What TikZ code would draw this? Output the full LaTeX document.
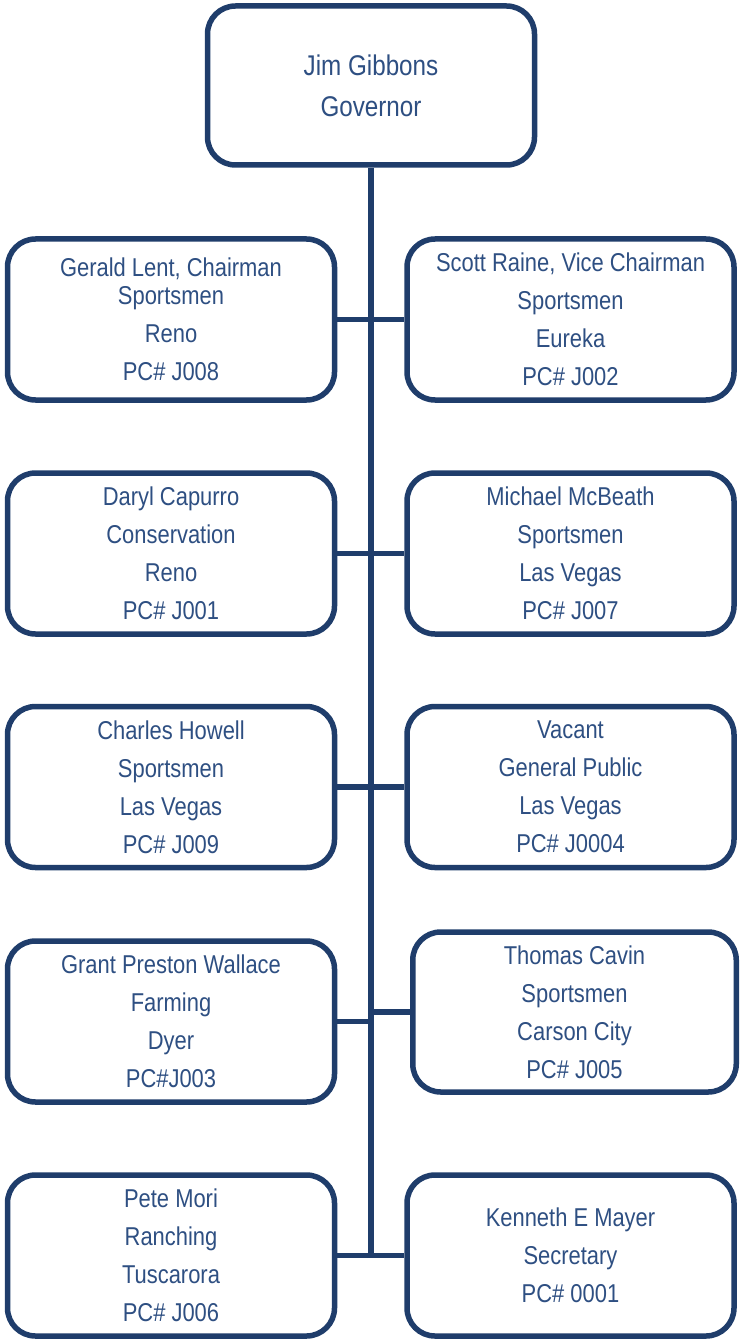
\documentclass[tikz,border=0pt]{standalone}
\usepackage{fontspec}
\setmainfont{Liberation Sans}[FakeStretch=0.85]
\definecolor{boxline}{RGB}{31,61,107}
\definecolor{boxtext}{RGB}{46,79,130}
\begin{document}
\begin{tikzpicture}[x=1pt,y=-1pt,
  member/.style={draw=boxline, line width=5.5pt, rounded corners=28pt, fill=white,
    minimum width=327pt, minimum height=161pt, inner sep=0pt, align=center,
    text=boxtext, font=\fontsize{25.8}{38}\selectfont},
  link/.style={draw=boxline, line width=5.5pt}]
\useasboundingbox (0,0) rectangle (739,1340);
% top
\node[member, minimum height=159pt, font=\fontsize{28.5}{41}\selectfont] (gov) at (371,85.5) {Jim Gibbons\\Governor};
\coordinate (trunkend) at (371,1255.5);
\draw[link] (gov.south) -- (trunkend);
% row 1
\node[member] (l1) at (171,319.5) {Gerald Lent, Chairman\\[-10pt]Sportsmen\\Reno\\PC\# J008};
\node[member] (r1) at (570.5,319.5) {Scott Raine, Vice Chairman\\Sportsmen\\Eureka\\PC\# J002};
% row 2
\node[member] (l2) at (171,553.5) {Daryl Capurro\\Conservation\\Reno\\PC\# J001};
\node[member] (r2) at (570.5,553.5) {Michael McBeath\\Sportsmen\\Las Vegas\\PC\# J007};
% row 3
\node[member] (l3) at (171,787) {Charles Howell\\Sportsmen\\Las Vegas\\PC\# J009};
\node[member] (r3) at (570.5,787) {Vacant\\General Public\\Las Vegas\\PC\# J0004};
% row 4
\node[member] (l4) at (171,1021.5) {Grant Preston Wallace\\Farming\\Dyer\\PC\#J003};
\node[member, minimum width=323.5pt, minimum height=160pt] (r4) at (574.5,1012) {Thomas Cavin\\Sportsmen\\Carson City\\PC\# J005};
% row 5
\node[member] (l5) at (171,1255.5) {Pete Mori\\Ranching\\Tuscarora\\PC\# J006};
\node[member] (r5) at (570.5,1255.5) {Kenneth E Mayer\\Secretary\\PC\# 0001};
% connectors
\draw[link] (l1.east) -- (r1.west);
\draw[link] (l2.east) -- (r2.west);
\draw[link] (l3.east) -- (r3.west);
\draw[link] (l4.east) -- (l4.east -| gov.south);
\draw[link] (r4.west) -- (r4.west -| gov.south);
\draw[link] (l5.east) -- (r5.west);
\end{tikzpicture}
\end{document}
